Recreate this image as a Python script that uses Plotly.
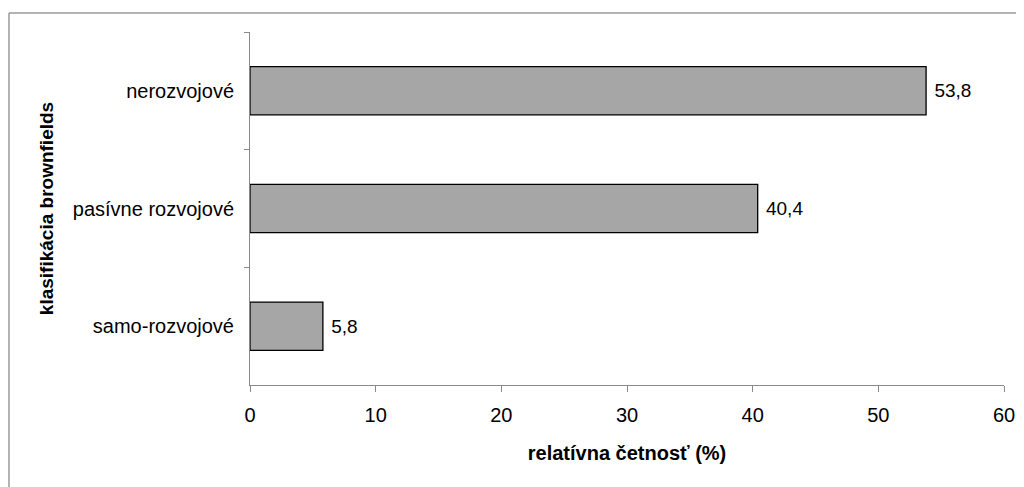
import plotly.graph_objects as go

categories = ["nerozvojové", "pasívne rozvojové", "samo-rozvojové"]
values = [53.8, 40.4, 5.8]
x_ticks = [0, 10, 20, 30, 40, 50, 60]

FONT = "Liberation Sans, Arial, sans-serif"

fig = go.Figure()
fig.add_trace(go.Bar(
    y=categories, x=values, orientation="h",
    marker=dict(color="#a6a6a6", line=dict(color="#000000", width=1.3)),
    text=values, texttemplate=" %{x:.1f}", textposition="outside",
    textfont=dict(family=FONT, size=19, color="#000000"),
    cliponaxis=False, hoverinfo="skip",
))

# page body has an 8px margin; plot area in page pixels: x 250..1004, y 32..385
OFF = 8
L, R, T, B = 250 - OFF, 1004 - OFF, 32 - OFF, 385 - OFF
W, H = 1024, 487
def px(x):
    return (x - OFF - L) / (R - L)
def py(y):
    return (B - (y - OFF)) / (B - T)

fig.add_shape(type="line", xref="paper", yref="paper",
              x0=px(9), x1=px(9), y0=py(13), y1=py(H + 20),
              line=dict(color="#9a9a9a", width=1.5))
fig.add_shape(type="line", xref="paper", yref="paper",
              x0=px(9), x1=px(W + 20), y0=py(13), y1=py(13),
              line=dict(color="#9a9a9a", width=1.5))

fig.update_layout(
    width=W, height=H,
    margin=dict(l=L, r=W - R, t=T, b=H - B),
    paper_bgcolor="white", plot_bgcolor="white",
    separators=", ",
    bargap=0.59,
    showlegend=False,
    font=dict(family=FONT, size=20, color="#000000"),
    xaxis=dict(
        range=[0, 60], tickvals=x_ticks, ticktext=[str(v) for v in x_ticks],
        showgrid=False, zeroline=False,
        showline=True, linecolor="#8a8a8a", linewidth=1,
        ticks="outside", ticklen=6, tickcolor="#8a8a8a",
        ticklabelstandoff=6,
        tickfont=dict(family=FONT, size=20),
        title=dict(text="<b>relatívna četnosť (%)</b>", font=dict(family=FONT, size=20), standoff=20),
    ),
    yaxis=dict(
        type="category", autorange="reversed",
        showgrid=False, zeroline=False,
        showline=True, linecolor="#8a8a8a", linewidth=1,
        ticks="outside", ticklen=5, tickcolor="#8a8a8a", tickson="boundaries",
        ticklabelstandoff=11,
        tickfont=dict(family=FONT, size=20),
        title=dict(text="<b>klasifikácia brownfields</b>", font=dict(family=FONT, size=19), standoff=14),
    ),
)

fig.write_html("out.html")
